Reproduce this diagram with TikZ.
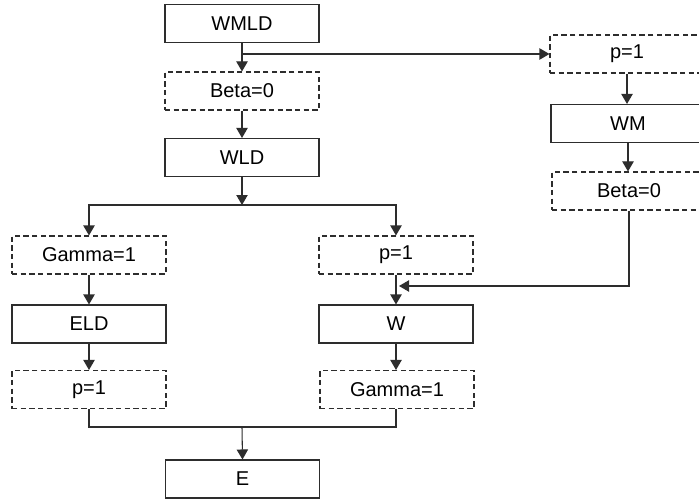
\documentclass[tikz,border=0pt]{standalone}
\usepackage{fontspec}
\setmainfont{Liberation Sans}
\usetikzlibrary{arrows.meta}
\definecolor{ln}{RGB}{45,45,45}
\begin{document}
\begin{tikzpicture}[x=0.75pt,y=-0.75pt,
  every node/.style={font=\fontsize{15}{18}\selectfont, text=black},
  solidbox/.style={draw=ln, line width=0.8pt, minimum width=115.5pt, minimum height=28.5pt, inner sep=0pt, fill=white},
  dashbox/.style={solidbox, dash pattern=on 4pt off 2.5pt},
  arr/.style={draw=ln, line width=0.8pt, -{Triangle[length=7.5pt,width=8.5pt]}},
  ln/.style={draw=ln, line width=0.8pt}]
\clip (0,0) rectangle (699,499);
\useasboundingbox (0,0) rectangle (699,499);
\fill[white] (0,0) rectangle (699,499);
% left / middle column
\node[solidbox] (wmld) at (242,23.5) {WMLD};
\node[dashbox] (beta1) at (242,91) {Beta=0};
\node[solidbox] (wld) at (242,157.5) {WLD};
\node[dashbox] (gamma1) at (89,255) {Gamma=1};
\node[dashbox] (p2) at (396,255) {p=1};
\node[solidbox] (eld) at (89,324) {ELD};
\node[solidbox] (w) at (396,324) {W};
\node[dashbox] (p3) at (89,389.5) {p=1};
\node[dashbox] (gamma2) at (397,389.5) {Gamma=1};
\node[solidbox] (e) at (242.5,479) {E};
% right column
\node[dashbox] (p1) at (627,54) {p=1};
\node[solidbox] (wm) at (628,123.5) {WM};
\node[dashbox] (beta2) at (629,191) {Beta=0};
% helper coordinates
\coordinate (j1) at (242,205);
\coordinate (j2) at (242,427);
\coordinate (m) at (399,286);
% connectors
\draw[arr] (wmld.south) -- (beta1.north);
\draw[arr] (wmld.south |- p1.west) -- (p1.west);
\draw[arr] (beta1.south) -- (wld.north);
\draw[arr] (wld.south) -- (j1);
\draw[arr] (j1) -| (gamma1.north);
\draw[arr] (j1) -| (p2.north);
\draw[arr] (gamma1.south) -- (eld.north);
\draw[arr] (eld.south) -- (p3.north);
\draw[arr] (p2.south) -- (w.north);
\draw[arr] (w.south) -- (w.south |- gamma2.north);
\draw[arr] (p1.south) -- (p1.south |- wm.north);
\draw[arr] (wm.south) -- (wm.south |- beta2.north);
\draw[arr] (beta2.south) |- (m);
\draw[ln] (p3.south) |- (j2) -| (w.south |- gamma2.south);
\draw[arr] (j2) -- (e.north);
\end{tikzpicture}
\end{document}
